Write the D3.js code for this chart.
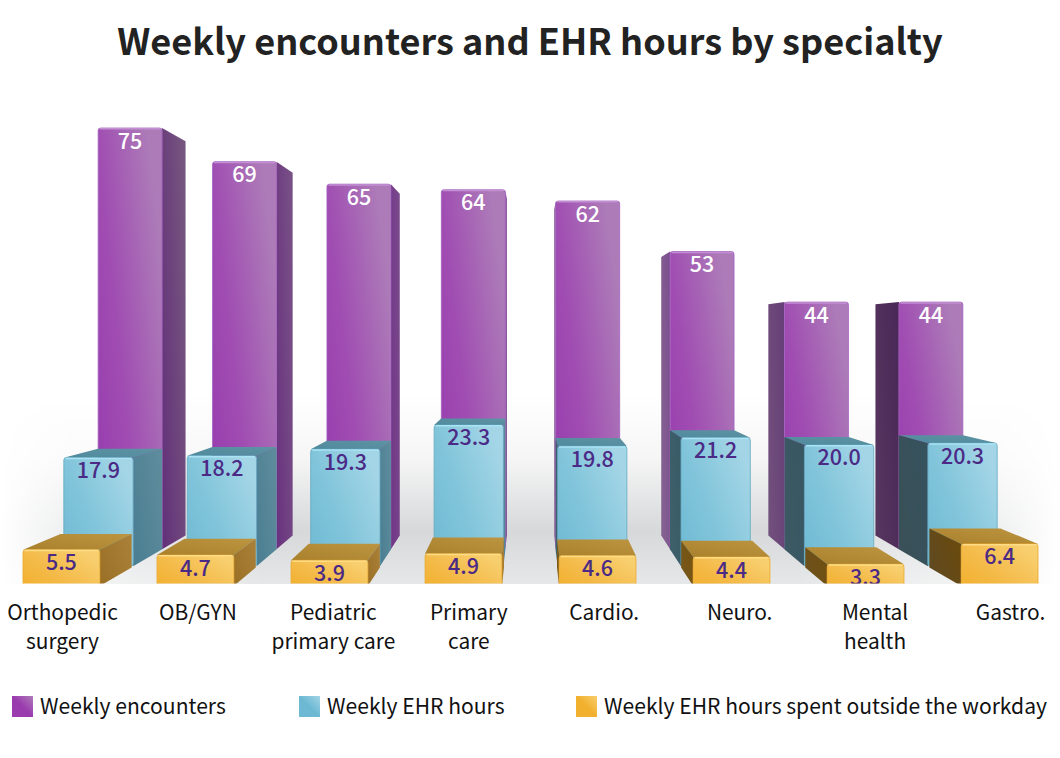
<!DOCTYPE html>
<html><head><meta charset="utf-8">
<style>html,body{margin:0;padding:0;background:#fff}svg{display:block}</style>
<script src="https://cdn.jsdelivr.net/npm/d3@7"></script>
</head><body><svg id="c" width="1060" height="758"></svg>
<script>
const title = "Weekly encounters and EHR hours by specialty";
const categories = ["Orthopedic surgery","OB/GYN","Pediatric primary care","Primary care","Cardio.","Neuro.","Mental health","Gastro."];
const tickLines = [["Orthopedic","surgery"],["OB/GYN"],["Pediatric","primary care"],["Primary","care"],["Cardio."],["Neuro."],["Mental","health"],["Gastro."]];
const encounters = [75,69,65,64,62,53,44,44];
const ehrHours = [17.9,18.2,19.3,23.3,19.8,21.2,20.0,20.3];
const outsideHours = [5.5,4.7,3.9,4.9,4.6,4.4,3.3,6.4];
const legendLabels = ["Weekly encounters","Weekly EHR hours","Weekly EHR hours spent outside the workday"];

const FONT = "'Noto Sans CJK SC','Noto Sans'";
const svg = d3.select("#c");
const defs = svg.append("defs");
const W = 1060, vp = {x:530.5, y:335}, baseY = 586, floorY = 583.5;
const persp = 0.0858;
const proj = (X,Y,z)=>{const s=1/(1+persp*z);return [vp.x+(X-vp.x)*s, vp.y+(Y-vp.y)*s];};
const xBand = d3.scaleBand().domain(categories).range([23,1038]).paddingInner(0.427).paddingOuter(0);
const y = d3.scaleLinear().domain([0,75]).range([baseY,baseY-493.5]);
const xTick = d3.scalePoint().domain(categories).range([62,1010]);

function lin(id,x1,y1,x2,y2,stops){
  const g=defs.append("linearGradient").attr("id",id).attr("x1",x1).attr("y1",y1).attr("x2",x2).attr("y2",y2);
  stops.forEach(s=>g.append("stop").attr("offset",s[0]).attr("stop-color",s[1]).attr("stop-opacity",s[2]===undefined?1:s[2]));
}
const series = [
 {key:"enc", values:encounters, z0:2, z1:2.93, wf:0.975, label:"#fff",
  front:["#963aae","#a04db2","#ad7cb8"], sideRNear:["#7a3a90","#7d4096"], sideRFar:["#64327a","#76567f"],
  sideLNear:["#8a5a9e","#92709f"], sideLFar:["#4a2858","#56365f"], top:"#8a4b9c", topHi:"#8a4b9c", edge:"#c38fd3", rim:"#a45fc0"},
 {key:"ehr", values:ehrHours, z0:1, z1:2, wf:0.98, label:"#4b2a86",
  front:["#6db9d3","#80c4da","#a3d5e6"], sideRNear:["#4c7f93","#5d8c9c"], sideRFar:["#4c7f93","#5d8c9c"],
  sideLNear:["#3a5d6a","#3f6470"], sideLFar:["#35525d","#3b5058"], top:"#4f8a9d", topHi:"#5e93a3", edge:"#a9e3f4", rim:"#62a8c0"},
 {key:"out", values:outsideHours, z0:0, z1:0.93, wf:1, label:"#4b2a86",
  front:["#f2b02f","#f4bb4a","#f8cf6f"], sideRNear:["#9b7128","#aa8038"], sideRFar:["#9b7128","#aa8038"],
  sideLNear:["#7a5510","#7c5c1c"], sideLFar:["#6b4a0c","#5f4a22"], top:"#a9802c", topHi:"#bd9440", edge:"#ffdc85", rim:"#eba82a"}
];
series.forEach(s=>{
  lin("f-"+s.key,"0","1","1","0.3",[[0,s.front[0]],[0.45,s.front[1]],[1,s.front[2]]]);
  lin("t-"+s.key,"0","1","1","0",[[0,s.top],[1,s.topHi]]);
  categories.forEach((c,i)=>{
    const t=Math.min(1,Math.abs(xBand(c)+xBand.bandwidth()/2-vp.x)/469);
    const tL=Math.pow(t,1.8);
    const ramp=(a,b,k,u)=>d3.interpolateRgb(a[k],b[k])(u);
    lin("sr-"+s.key+i,"0","0.8","1","0.2",[[0,ramp(s.sideRNear,s.sideRFar,0,t)],[1,ramp(s.sideRNear,s.sideRFar,1,t)]]);
    lin("sl-"+s.key+i,"0","0.8","1","0.2",[[0,ramp(s.sideLNear,s.sideLFar,1,tL)],[1,ramp(s.sideLNear,s.sideLFar,0,tL)]]);
  });
});
lin("floorV","0","0","0","1",[[0,"#ffffff"],[0.33,"#f6f6f6"],[0.72,"#d6d8da"],[1,"#e6e7e8"]]);
lin("floorH","0","0","1","0",[[0,"#000"],[0.06,"#666"],[0.25,"#fff"],[0.75,"#fff"],[0.94,"#666"],[1,"#000"]]);
defs.append("mask").attr("id","floorMask").attr("maskUnits","userSpaceOnUse")
  .attr("x",0).attr("y",0).attr("width",W).attr("height",758)
  .append("rect").attr("x",0).attr("y",0).attr("width",W).attr("height",758).attr("fill","url(#floorH)");
defs.append("clipPath").attr("id","clip").append("rect").attr("x",0).attr("y",0).attr("width",W).attr("height",floorY);

svg.append("rect").attr("x",0).attr("y",395).attr("width",W).attr("height",floorY-395+0.5)
  .attr("fill","url(#floorV)").attr("mask","url(#floorMask)");

const chart = svg.append("g").attr("clip-path","url(#clip)");
const line = d3.line();
const poly = (g,pts,fill)=>g.append("path").attr("d",line(pts)+"Z").attr("fill",fill);

series.forEach(s=>{
  categories.forEach((c,i)=>{
    const v=s.values[i], cx=xBand(c)+xBand.bandwidth()/2, hw=xBand.bandwidth()*s.wf/2;
    const xl=cx-hw, xr=cx+hw, yt=y(v), yb=y(0);
    const g=chart.append("g");
    const fl=proj(xl,yt,s.z0), fr=proj(xr,yt,s.z0), bl=proj(xl,yt,s.z1), br=proj(xr,yt,s.z1);
    const flb=proj(xl,yb,s.z0), frb=proj(xr,yb,s.z0), blb=proj(xl,yb,s.z1), brb=proj(xr,yb,s.z1);
    if(fl[1]>vp.y) poly(g,[fl,fr,br,bl],"url(#t-"+s.key+")");
    if(xr<vp.x) poly(g,[fr,br,brb,frb],"url(#sr-"+s.key+i+")");
    if(xl>vp.x) poly(g,[fl,bl,blb,flb],"url(#sl-"+s.key+i+")");
    g.append("rect").attr("x",fl[0]).attr("y",fl[1]).attr("width",fr[0]-fl[0]).attr("height",flb[1]-fl[1])
      .attr("rx",2.5).attr("fill","url(#f-"+s.key+")").attr("stroke",s.rim).attr("stroke-width",0.8);
    g.append("path").attr("d",line([[fl[0]+1.5,fl[1]+0.8],[fr[0]-1.5,fl[1]+0.8]]))
      .attr("stroke",s.edge).attr("stroke-width",1.5).attr("fill","none");
    g.append("text").attr("x",(fl[0]+fr[0])/2).attr("y",fl[1]+20.5)
      .attr("text-anchor","middle").attr("font-family",FONT).attr("font-weight",500).attr("font-size",21.5)
      .attr("fill",s.label).text(s.key==="enc"?v:v.toFixed(1));
  });
});

svg.append("text").attr("x",530).attr("y",55).attr("text-anchor","middle")
  .attr("font-family",FONT).attr("font-weight",700).attr("font-size",36.1).attr("fill","#222").text(title);

const axis = d3.axisBottom(xTick).tickSize(0).tickPadding(0);
const ag = svg.append("g").attr("transform","translate(0,600)").call(axis);
ag.select(".domain").remove();
ag.selectAll(".tick text").each(function(c){
  const t=d3.select(this).text(null).attr("y",0).attr("dy",null).attr("font-family",FONT).attr("font-size",20.9).attr("fill","#111");
  tickLines[categories.indexOf(c)].forEach((l,k)=>t.append("tspan").attr("x",0).attr("y",20+k*28.5).text(l));
});

const legX=[12,299,576], legSwatch=["#9a3cae","#6db9d3","#f2b02f"], legFill=["#ad7cb8","#a3d5e6","#f8cf6f"];
legendLabels.forEach((l,i)=>{
  lin("lg"+i,"0","1","1","0",[[0,legSwatch[i]],[0.5,legSwatch[i]],[1,legFill[i]]]);
  svg.append("rect").attr("x",legX[i]).attr("y",696).attr("width",21).attr("height",21).attr("fill","url(#lg"+i+")");
  svg.append("text").attr("x",legX[i]+28).attr("y",714).attr("font-family",FONT).attr("font-size",21.1).attr("fill","#111").text(l);
});
</script></body></html>
